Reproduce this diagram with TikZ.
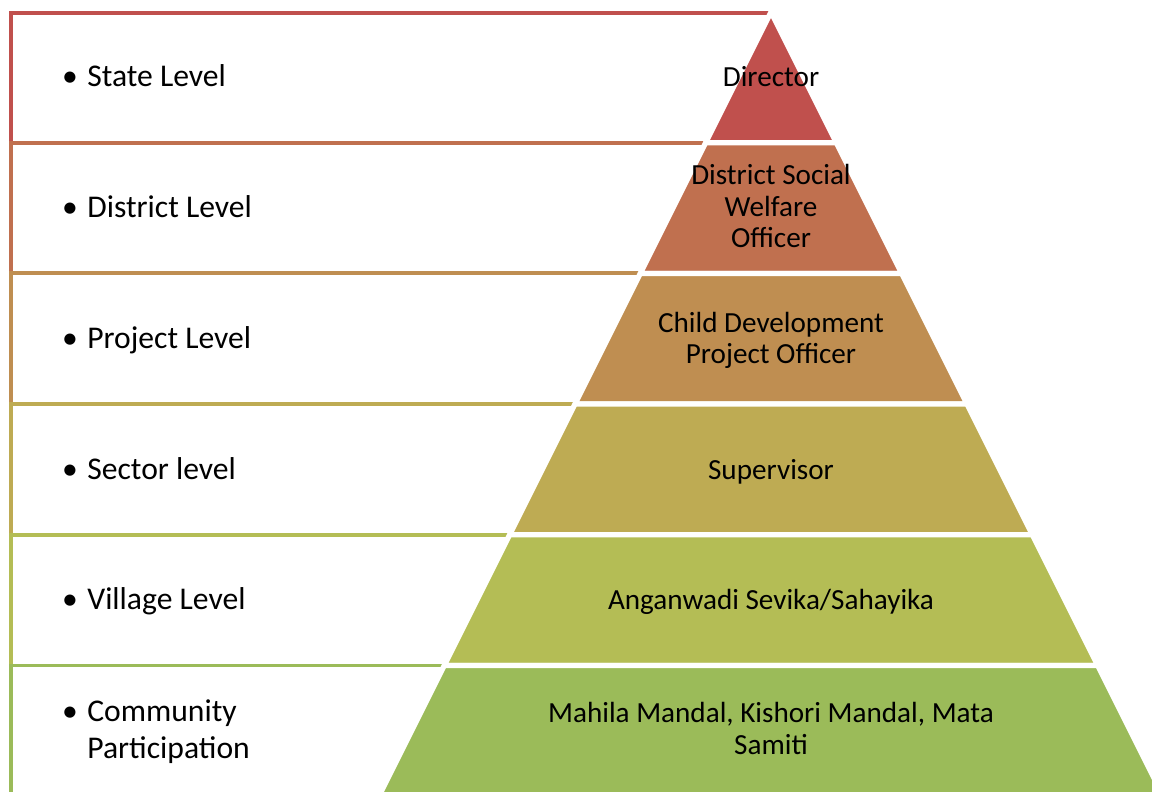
\documentclass[tikz,border=0pt]{standalone}
\usepackage{fontspec}
\setmainfont{Carlito}
\usepackage{xcolor}
\usepackage{tikz}

\definecolor{lvlA}{HTML}{C0504D}
\definecolor{lvlB}{HTML}{C0704F}
\definecolor{lvlC}{HTML}{BF8E51}
\definecolor{lvlD}{HTML}{BEAB53}
\definecolor{lvlE}{HTML}{B4BD55}
\definecolor{lvlF}{HTML}{9BBB59}

\tikzset{
  levelbox/.style={draw=#1,line width=2.2pt},
  layer/.style={fill=#1,draw=white,line width=3pt,line join=round},
  leveltext/.style={anchor=west,align=left,inner sep=0pt,
    font=\fontsize{18}{20.6}\selectfont},
  roletext/.style={align=center,inner sep=0pt,
    font=\fontsize{16.6}{17.8}\selectfont}
}

\begin{document}
\begin{tikzpicture}[x=0.02cm,y=-0.02cm]
            \useasboundingbox (0,0) rectangle (1152,791);
            \clip (0,0) rectangle (1152,791);

            % Level boxes behind the pyramid
            \draw[levelbox=lvlA] (11,13) rectangle (771,142.7);
            \draw[levelbox=lvlB] (11,142.7) rectangle (771,273.4);
            \draw[levelbox=lvlC] (11,273.4) rectangle (771,404.1);
            \draw[levelbox=lvlD] (11,404.1) rectangle (771,534.8);
            \draw[levelbox=lvlE] (11,534.8) rectangle (771,665.5);
            \draw[levelbox=lvlF] (11,665.5) rectangle (771,800);

            % Pyramid layers
            \filldraw[layer=lvlA] (771,12) -- (836.35,142.7) -- (705.65,142.7) -- cycle;
            \filldraw[layer=lvlB] (705.65,142.7) -- (836.35,142.7) -- (901.7,273.4) -- (640.3,273.4) -- cycle;
            \filldraw[layer=lvlC] (640.3,273.4) -- (901.7,273.4) -- (967.05,404.1) -- (574.95,404.1) -- cycle;
            \filldraw[layer=lvlD] (574.95,404.1) -- (967.05,404.1) -- (1032.4,534.8) -- (509.6,534.8) -- cycle;
            \filldraw[layer=lvlE] (509.6,534.8) -- (1032.4,534.8) -- (1097.75,665.5) -- (444.25,665.5) -- cycle;
            \filldraw[layer=lvlF] (444.25,665.5) -- (1097.75,665.5) -- (1163.1,796.2) -- (378.9,796.2) -- cycle;

            % Level labels
            \node[leveltext] (state) at (87,75.5) {\llap{•\hspace{0.3em}}State Level};
            \node[leveltext] (district) at (87,206.5) {\llap{•\hspace{0.3em}}District Level};
            \node[leveltext] (project) at (87,340) {\llap{•\hspace{0.3em}}Project Level};
            \node[leveltext] (sector) at (87,468.5) {\llap{•\hspace{0.3em}}Sector level};
            \node[leveltext] (village) at (87,601) {\llap{•\hspace{0.3em}}Village Level};
            \node[leveltext] (community) at (87,731.6) {\llap{•\hspace{0.3em}}Community\\Participation};

            % Functionaries
            \node[roletext] (director) at (771,77) {Director};
            \node[roletext] (dswo) at (771,206) {District Social\\Welfare\\Officer};
            \node[roletext] (cdpo) at (771,340.5) {Child Development\\Project Officer};
            \node[roletext] (supervisor) at (771,471.5) {Supervisor};
            \node[roletext] (anganwadi) at (771,601.5) {Anganwadi Sevika/Sahayika};
            \node[roletext] (mahila) at (771,728.5) {Mahila Mandal, Kishori Mandal, Mata\\Samiti};
        \end{tikzpicture}
\end{document}
